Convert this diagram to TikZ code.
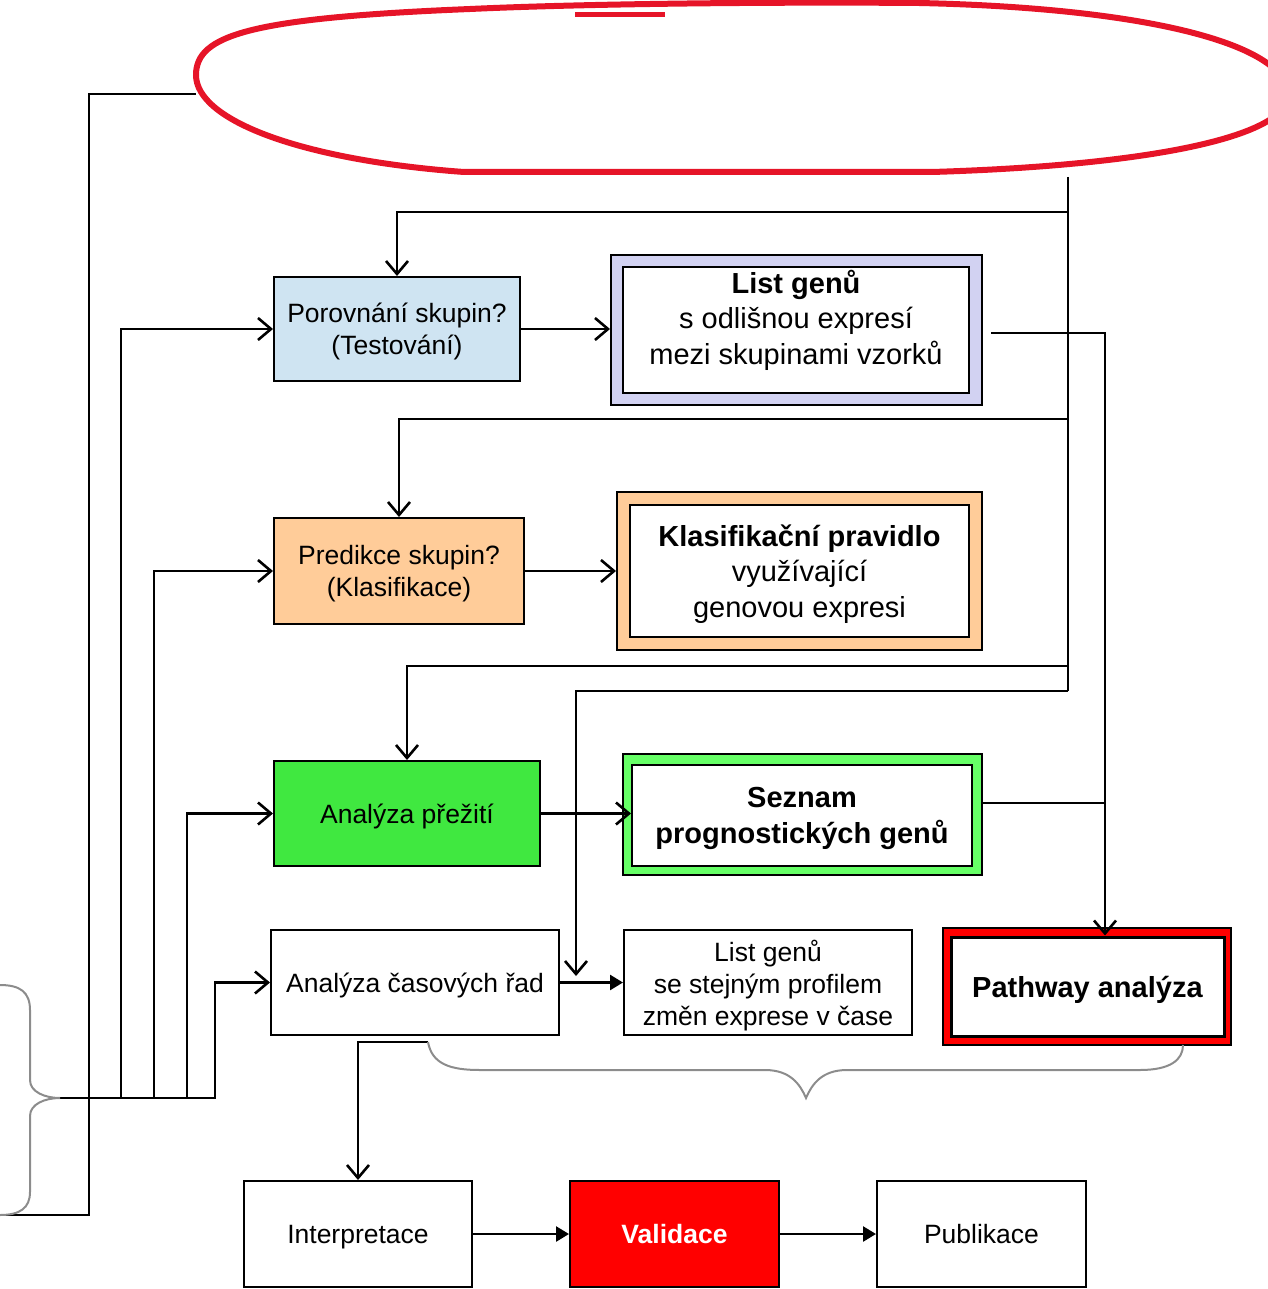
\documentclass[tikz,border=0pt]{standalone}
\usepackage{fontspec}
\setmainfont{Liberation Sans}
\usetikzlibrary{arrows.meta,calc}
\definecolor{ellred}{RGB}{230,20,40}
\definecolor{pblue}{RGB}{207,228,242}
\definecolor{plav}{RGB}{210,210,242}
\definecolor{ppeach}{RGB}{255,204,153}
\definecolor{pgreen}{RGB}{64,232,64}
\definecolor{plgreen}{RGB}{102,255,102}
\definecolor{pred}{RGB}{255,0,0}
\definecolor{bracegray}{RGB}{140,140,140}
\newcommand\myfA{\fontsize{26.5}{32}\selectfont}
\newcommand\myfB{\fontsize{29}{35.5}\selectfont}
\begin{document}
\begin{tikzpicture}[x=1pt,y=-1pt,
  line/.style={line width=2.6pt, black},
  arr/.style={line, -{Straight Barb[length=13pt,width=22pt]}},
  farr/.style={line, -{Triangle[length=13pt,width=15pt]}},
  box/.style={draw=black, line width=2pt, inner sep=0pt, align=center, font=\myfA, text depth=0pt},
  bracel/.style={draw=bracegray, line width=2pt}]
\useasboundingbox (0,0) rectangle (1267,1289);

% red ellipse
\draw[ellred, line width=6pt] (196,75) .. controls (196,35) and (250,18) .. (470,9)
  .. controls (600,3) and (800,2) .. (919,3)
  .. controls (1150,8) and (1288,45) .. (1288,95)
  .. controls (1288,135) and (1160,165) .. (932,172)
  -- (464,172)
  .. controls (300,160) and (196,120) .. cycle;
\draw[ellred, line width=5pt] (575,15) -- (665,15);

% boxes
\node[box, fill=pblue, minimum width=246pt, minimum height=104pt] (por) at (397,329) {Porovnání skupin?\\(Testování)};
\node[box, fill=plav, minimum width=371pt, minimum height=150pt] (listout) at (796.5,330) {};
\node[box, fill=white, minimum width=346pt, minimum height=126pt] (listin) at (796,330) {};
\node[font=\myfB, align=center] (listtxt) at (796,320) {\textbf{List genů}\\s odlišnou expresí\\mezi skupinami vzorků};

\node[box, fill=ppeach, minimum width=250pt, minimum height=106pt] (pred) at (399,571) {Predikce skupin?\\(Klasifikace)};
\node[box, fill=ppeach, minimum width=365pt, minimum height=158pt] (klasout) at (799.5,571) {};
\node[box, fill=white, minimum width=339pt, minimum height=132pt, font=\myfB] (klasin) at (799.5,571) {\textbf{Klasifikační pravidlo}\\využívající\\genovou expresi};

\node[box, fill=pgreen, minimum width=266pt, minimum height=105pt] (surv) at (407,813.5) {Analýza přežití};
\node[box, fill=plgreen, minimum width=359pt, minimum height=121pt] (seznout) at (802.5,814.5) {};
\node[box, fill=white, minimum width=340pt, minimum height=101pt, font=\myfB] (seznin) at (802,815.5) {\textbf{Seznam}\\\textbf{prognostických genů}};

\node[box, fill=white, minimum width=288pt, minimum height=105pt] (time) at (415,982.5) {Analýza časových řad};
\node[box, fill=white, minimum width=288pt, minimum height=105pt] (same) at (768,982.5) {List genů\\se stejným profilem\\změn exprese v čase};
\node[box, fill=pred, minimum width=288pt, minimum height=117pt] (pathout) at (1087,986.5) {};
\node[box, fill=white, line width=3pt, minimum width=273pt, minimum height=99pt, font=\myfB] (pathin) at (1087.5,986.5) {\textbf{Pathway analýza}};

\node[box, fill=white, minimum width=228pt, minimum height=106pt] (interp) at (358,1234) {Interpretace};
\node[box, fill=pred, minimum width=209pt, minimum height=106pt, text=white] (valid) at (674.5,1234) {\textbf{Validace}};
\node[box, fill=white, minimum width=209pt, minimum height=106pt] (publ) at (981.5,1234) {Publikace};

% left loop from ellipse
\coordinate (elw) at (196,94);
\coordinate (lc1) at (89,94);
\coordinate (lc2) at (89,1215);
\coordinate (lc3) at (0,1215);
\draw[line] (elw) -- (lc1) -- (lc2) -- (lc3);

% trunk from ellipse
\coordinate (trtop) at (1068,177);
\coordinate (trbot) at (1068,691);
\draw[line] (trtop) -- (trbot);
\coordinate (b1) at (1068,212);
\coordinate (b2) at (1068,419);
\coordinate (b3) at (1068,666);
\coordinate (b4end) at (576,976);
\draw[arr] (b1) -| (por.north);
\draw[arr] (b2) -| (pred.north);
\draw[arr] (b3) -| (surv.north);
\draw[arr] (trbot) -| (b4end);

% horizontal arrows
\draw[arr] (por.east) -- (por.east -| listout.west);
\draw[arr] (pred.east) -- (pred.east -| klasout.west);
\draw[arr] (surv.east) -- (surv.east -| seznin.west);
\draw[farr] (time.east) -- (time.east -| same.west);
\draw[farr] (interp) -- (valid);
\draw[farr] (valid) -- (publ);

% right collector to pathway
\coordinate (rjoin) at (1105,803);
\draw[arr] ($(listout.east)+(8,3)$) -| ($(pathin.north)+(17.5,0)$);
\draw[line] ($(seznout.east)+(0,-11.5)$) -- (rjoin);

% bottom to interpretation
\coordinate (bs) at (428,1042);
\draw[arr] (bs) -| (interp.north);

% left bundle
\coordinate (tip) at (60,1098);
\draw[arr] (tip) -- (121,1098) |- (por.west);
\draw[arr] (tip) -- (154,1098) |- (pred.west);
\draw[arr] (tip) -- (187,1098) |- (surv.west);
\draw[arr] (tip) -- (215,1098) |- (time.west);

% braces
\draw[bracel] (0,985) .. controls (20,985) and (30,992) .. (30,1010) -- (30,1080)
  .. controls (30,1092) and (45,1098) .. (tip)
  .. controls (45,1098) and (30,1104) .. (30,1116) -- (30,1192)
  .. controls (30,1208) and (20,1215) .. (lc3);
\coordinate (btip) at (806,1098);
\draw[bracel] (bs) .. controls (432,1064) and (450,1070) .. (480,1070) -- (765,1070)
  .. controls (790,1070) and (800,1084) .. (btip)
  .. controls (812,1084) and (822,1070) .. (847,1070) -- (1140,1070)
  .. controls (1170,1070) and (1183,1060) .. (1183,1045);
\end{tikzpicture}
\end{document}
